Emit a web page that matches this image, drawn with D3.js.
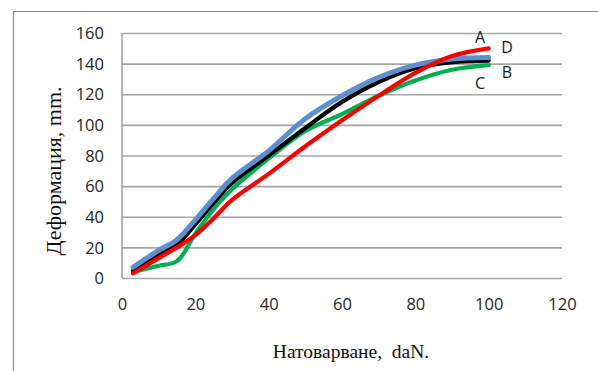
<!DOCTYPE html>
<html>
<head>
<meta charset="utf-8">
<script src="https://cdn.jsdelivr.net/npm/d3@7"></script>
<style>
html,body{margin:0;padding:0;background:#fff;}
svg{display:block;}
</style>
</head>
<body>
<svg id="chart" width="598" height="371"></svg>
<script>
// Data
const loads = [3, 10, 15, 20, 25, 30, 40, 50, 60, 70, 80, 90, 100];
const seriesGreen = [4, 8, 11, 29, 45, 58, 78, 96, 107, 119, 129, 136, 139];
const seriesBlack = [5, 15, 22, 35, 49, 62, 80, 98, 115, 128, 137, 141, 142];
const seriesBlue  = [7, 18, 25, 38, 52, 65, 83, 104, 119, 131, 139, 143, 144];
const seriesRed   = [3, 13, 20, 28, 39, 51, 68, 86, 103, 119, 134, 145, 150];
const xTicks = [0, 20, 40, 60, 80, 100, 120];
const yTicks = [0, 20, 40, 60, 80, 100, 120, 140, 160];
const curveLabels = ["A", "D", "B", "C"];
const xTitle = "Натоварване,  daN.";
const yTitle = "Деформация, mm.";

const svg = d3.select("#chart");
const x = d3.scaleLinear().domain([0, 120]).range([122, 562]);
const y = d3.scaleLinear().domain([0, 160]).range([278, 33]);

// outer chart frame
svg.append("path").attr("d", "M13.5,371 L13.5,11.5 L598,11.5")
  .attr("fill", "none").attr("stroke", "#8c8c8c").attr("stroke-width", 1.2);

// grid + y axis labels
const yAxis = d3.axisLeft(y).tickValues(yTicks).tickSize(-(x(120) - x(0))).tickPadding(18);
const gy = svg.append("g").attr("transform", `translate(${x(0)},0)`).call(yAxis);
gy.select(".domain").remove();
gy.selectAll(".tick line").attr("stroke", "#a6a6a6").attr("stroke-width", 1.6);
gy.selectAll(".tick text").attr("font-family", "'Open Sans', sans-serif").attr("font-size", 16.5)
  .attr("fill", "#262626").attr("dy", "0.34em");

// left axis line
svg.append("line").attr("x1", x(0)).attr("x2", x(0)).attr("y1", y(160)).attr("y2", y(0))
  .attr("stroke", "#a6a6a6").attr("stroke-width", 1.6);

// x axis labels
const xAxis = d3.axisBottom(x).tickValues(xTicks).tickSize(0).tickPadding(20);
const gx = svg.append("g").attr("transform", `translate(0,${y(0)})`).call(xAxis);
gx.select(".domain").remove();
gx.selectAll(".tick text").attr("font-family", "'Open Sans', sans-serif").attr("font-size", 16.5)
  .attr("fill", "#262626");

// lines
const mk = vals => loads.map((l, i) => [l, vals[i]]);
const line = d3.line().x(d => x(d[0])).y(d => y(d[1])).curve(d3.curveCatmullRom.alpha(0.5));
const series = [
  {v: seriesGreen, c: "#00b050", w: 4.2},
  {v: seriesBlack, c: "#000000", w: 4.2},
  {v: seriesBlue,  c: "#5b8fd0", w: 5},
  {v: seriesRed,   c: "#ff0000", w: 4.2}
];
series.forEach(s => {
  svg.append("path").attr("d", line(mk(s.v))).attr("fill", "none")
    .attr("stroke", s.c).attr("stroke-width", s.w).attr("stroke-linecap", "round")
    .attr("stroke-linejoin", "round");
});

// curve labels
const labelX = [480, 507, 507, 480], labelY = [37, 47, 72, 83];
curveLabels.forEach((t, i) => {
  svg.append("text").attr("x", labelX[i]).attr("y", labelY[i]).attr("dy", "0.36em")
    .attr("text-anchor", "middle").attr("font-family", "'Open Sans', sans-serif")
    .attr("font-size", 16).attr("fill", "#1a1a2e").text(t);
});

// axis titles
svg.append("text").attr("x", 351).attr("y", 358).attr("text-anchor", "middle")
  .attr("font-family", "'Liberation Serif', 'Times New Roman', serif").attr("font-size", 19.5)
  .attr("fill", "#111").style("white-space", "pre").text(xTitle);
svg.append("text").attr("transform", "translate(61,171) rotate(-90)").attr("text-anchor", "middle")
  .attr("font-family", "'Liberation Serif', 'Times New Roman', serif").attr("font-size", 22)
  .attr("fill", "#111").text(yTitle);
</script>
</body>
</html>
